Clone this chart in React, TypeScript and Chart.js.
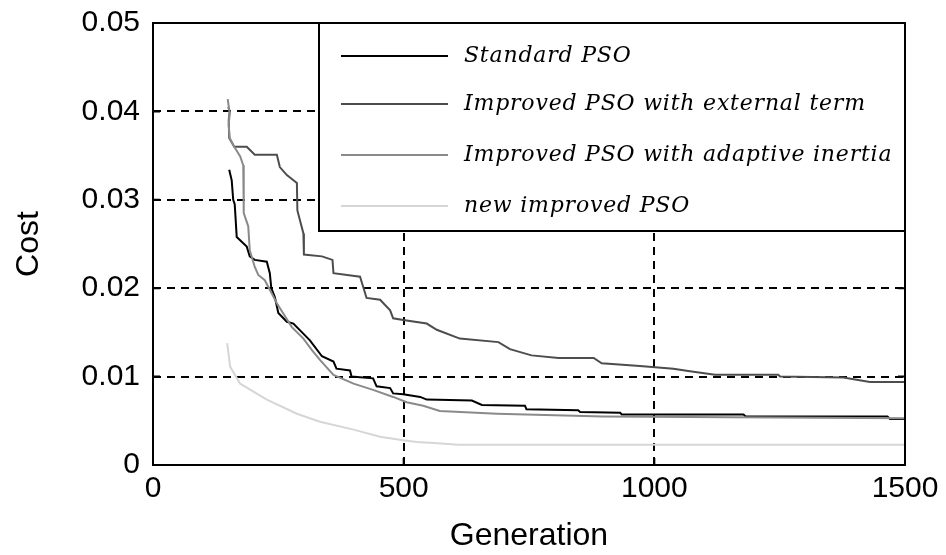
import React, { useEffect, useRef } from 'react';
import { Chart, registerables } from 'chart.js';

Chart.register(...registerables);

const seriesNames = [
  'Standard PSO',
  'Improved PSO with external term',
  'Improved PSO with adaptive inertia',
  'new improved PSO',
];
const seriesColors = ['#000000', '#4d4d4d', '#8a8a8a', '#d6d6d6'];

const standardGen = [152, 157, 160, 163, 167, 187, 193, 203, 227, 233, 236, 243, 250, 267, 280, 313, 337, 360, 366, 393, 396, 439, 446, 473, 479, 499, 533, 546, 636, 656, 742, 745, 848, 852, 932, 935, 1178, 1182, 1465, 1470, 1500];
const standardCost = [0.0334, 0.0322, 0.03, 0.0295, 0.0258, 0.0247, 0.0236, 0.0232, 0.023, 0.0217, 0.02, 0.019, 0.0172, 0.0162, 0.016, 0.0141, 0.0123, 0.0117, 0.0109, 0.0107, 0.01, 0.0098, 0.0089, 0.0087, 0.0081, 0.008, 0.0077, 0.0074, 0.0073, 0.0068, 0.0067, 0.0063, 0.0062, 0.006, 0.0059, 0.0057, 0.0057, 0.0055, 0.0055, 0.0052, 0.0052];

const externalGen = [150, 153, 151, 152, 162, 187, 203, 247, 253, 267, 287, 288, 300, 301, 337, 358, 360, 413, 419, 426, 453, 473, 479, 499, 546, 566, 612, 689, 712, 755, 809, 879, 895, 971, 1038, 1071, 1121, 1247, 1251, 1377, 1430, 1500];
const externalCost = [0.0405, 0.04, 0.039, 0.037, 0.036, 0.036, 0.0351, 0.0351, 0.0337, 0.0328, 0.0319, 0.0288, 0.0262, 0.0238, 0.0236, 0.0232, 0.0217, 0.0213, 0.0202, 0.0189, 0.0187, 0.0175, 0.0166, 0.0164, 0.016, 0.0153, 0.0143, 0.0139, 0.0131, 0.0124, 0.0121, 0.0121, 0.0115, 0.0112, 0.0109, 0.0106, 0.0102, 0.0102, 0.01, 0.0099, 0.0094, 0.0094];

const adaptiveGen = [149, 153, 151, 153, 162, 174, 180, 181, 190, 193, 203, 210, 223, 237, 247, 277, 300, 317, 333, 360, 400, 439, 479, 506, 539, 572, 686, 898, 1500];
const adaptiveCost = [0.0414, 0.0398, 0.0385, 0.037, 0.036, 0.0349, 0.0339, 0.0285, 0.027, 0.0243, 0.0224, 0.0215, 0.0209, 0.0194, 0.0183, 0.0156, 0.0143, 0.013, 0.0119, 0.0102, 0.0092, 0.0085, 0.0077, 0.0071, 0.0067, 0.0061, 0.0058, 0.0055, 0.0053];

const newGen = [148, 154, 174, 227, 287, 333, 400, 453, 499, 526, 560, 610, 1500];
const newCost = [0.0138, 0.0111, 0.0092, 0.0074, 0.0058, 0.0049, 0.004, 0.0032, 0.0028, 0.0026, 0.0025, 0.0023, 0.0023];

const xTicks = [0, 500, 1000, 1500];
const yTicks = [0, 0.01, 0.02, 0.03, 0.04, 0.05];

const toPoints = (g: number[], c: number[]) => g.map((x, i) => ({ x, y: c[i] }));

const framePlugin = {
  id: 'frameLegend',
  afterDatasetsDraw(chart: any) {
    const { ctx, chartArea: a, scales } = chart;
    const xs = scales.x;
    const ys = scales.y;
    ctx.save();
    ctx.setLineDash([]);
    ctx.strokeStyle = '#000';
    ctx.lineWidth = 2;
    const tl = 7;
    ctx.beginPath();
    xTicks.forEach((v) => {
      const px = xs.getPixelForValue(v);
      ctx.moveTo(px, a.bottom);
      ctx.lineTo(px, a.bottom - tl);
      ctx.moveTo(px, a.top);
      ctx.lineTo(px, a.top + tl);
    });
    yTicks.forEach((v) => {
      const py = ys.getPixelForValue(v);
      ctx.moveTo(a.left, py);
      ctx.lineTo(a.left + tl, py);
      ctx.moveTo(a.right, py);
      ctx.lineTo(a.right - tl, py);
    });
    ctx.stroke();

    // legend box
    const lx = a.left + 166;
    const ly = a.top;
    const lw = a.right - lx;
    const lh = 208;
    ctx.fillStyle = '#fff';
    ctx.fillRect(lx, ly, lw, lh);
    ctx.strokeRect(lx, ly, lw, lh);
    const rowY = [33, 81, 132, 183];
    ctx.font = 'italic 22px "DejaVu Serif"';
    (ctx as any).letterSpacing = '0.8px';
    ctx.textBaseline = 'middle';
    ctx.textAlign = 'left';
    seriesNames.forEach((name, i) => {
      const y = ly + rowY[i];
      ctx.strokeStyle = seriesColors[i];
      ctx.lineWidth = 2;
      ctx.beginPath();
      ctx.moveTo(lx + 22, y);
      ctx.lineTo(lx + 129, y);
      ctx.stroke();
      ctx.fillStyle = '#000';
      ctx.fillText(name, lx + 145, y);
    });
    (ctx as any).letterSpacing = '0px';

    ctx.strokeStyle = '#000';
    ctx.lineWidth = 2;
    ctx.strokeRect(a.left, a.top, a.right - a.left, a.bottom - a.top);
    ctx.restore();
  },
};

const noPad = (s: any) => {
  s.paddingTop = 0;
  s.paddingBottom = 0;
  s.paddingLeft = 0;
  s.paddingRight = 0;
};

export default function App() {
  const ref = useRef<HTMLCanvasElement | null>(null);
  useEffect(() => {
    if (!ref.current) return;
    const line = (label: string, g: number[], c: number[], color: string, order: number) => ({
      label,
      data: toPoints(g, c),
      borderColor: color,
      backgroundColor: color,
      borderWidth: 2,
      pointRadius: 0,
      tension: 0,
      fill: false,
      order,
    });
    const chart = new Chart(ref.current, {
      type: 'line',
      data: {
        datasets: [
          line(seriesNames[0], standardGen, standardCost, seriesColors[0], 1),
          line(seriesNames[1], externalGen, externalCost, seriesColors[1], 2),
          line(seriesNames[2], adaptiveGen, adaptiveCost, seriesColors[2], 0),
          line(seriesNames[3], newGen, newCost, seriesColors[3], 3),
        ],
      },
      options: {
        responsive: false,
        animation: false,
        layout: { padding: { left: 0, top: 23, right: 41, bottom: 0 } },
        plugins: { legend: { display: false }, tooltip: { enabled: false } },
        scales: {
          x: {
            type: 'linear',
            min: 0,
            max: 1500,
            afterFit: (s: any) => { s.height = 90; noPad(s); },
            afterBuildTicks: (s: any) => { s.ticks = xTicks.map((v) => ({ value: v })); },
            ticks: {
              font: { family: 'Liberation Sans', size: 30 },
              color: '#000',
              padding: 6,
              maxRotation: 0,
              callback: (v: any) => String(v),
            },
            grid: {
              color: (c: any) => (c.tick && (c.tick.value === 0 || c.tick.value === 1500) ? 'rgba(0,0,0,0)' : '#000'),
              lineWidth: 2,
              drawTicks: false,
            },
            border: { display: false, dash: [8, 6] },
            title: {
              display: true,
              text: 'Generation',
              color: '#000',
              font: { family: 'Liberation Sans', size: 32 },
              padding: { top: 0, bottom: 0 },
            },
          },
          y: {
            type: 'linear',
            min: 0,
            max: 0.05,
            afterFit: (s: any) => { s.width = 153; noPad(s); },
            afterBuildTicks: (s: any) => { s.ticks = yTicks.map((v) => ({ value: v })); },
            ticks: {
              font: { family: 'Liberation Sans', size: 30 },
              color: '#000',
              padding: 13,
              callback: (v: any) => (Number(v) === 0 ? '0' : Number(v).toFixed(2)),
            },
            grid: {
              color: (c: any) => (c.tick && (c.tick.value === 0 || Math.abs(c.tick.value - 0.05) < 1e-9) ? 'rgba(0,0,0,0)' : '#000'),
              lineWidth: 2,
              drawTicks: false,
            },
            border: { display: false, dash: [8, 6] },
            title: {
              display: true,
              text: 'Cost',
              color: '#000',
              font: { family: 'Liberation Sans', size: 32 },
              padding: { top: 10, bottom: 0 },
            },
          },
        },
      },
      plugins: [framePlugin],
    } as any);
    return () => chart.destroy();
  }, []);
  return (
    <div style={{ position: 'fixed', left: 0, top: 0, width: 946, height: 555, background: '#fff' }}>
      <canvas ref={ref} width={946} height={555} style={{ display: 'block' }} />
    </div>
  );
}
